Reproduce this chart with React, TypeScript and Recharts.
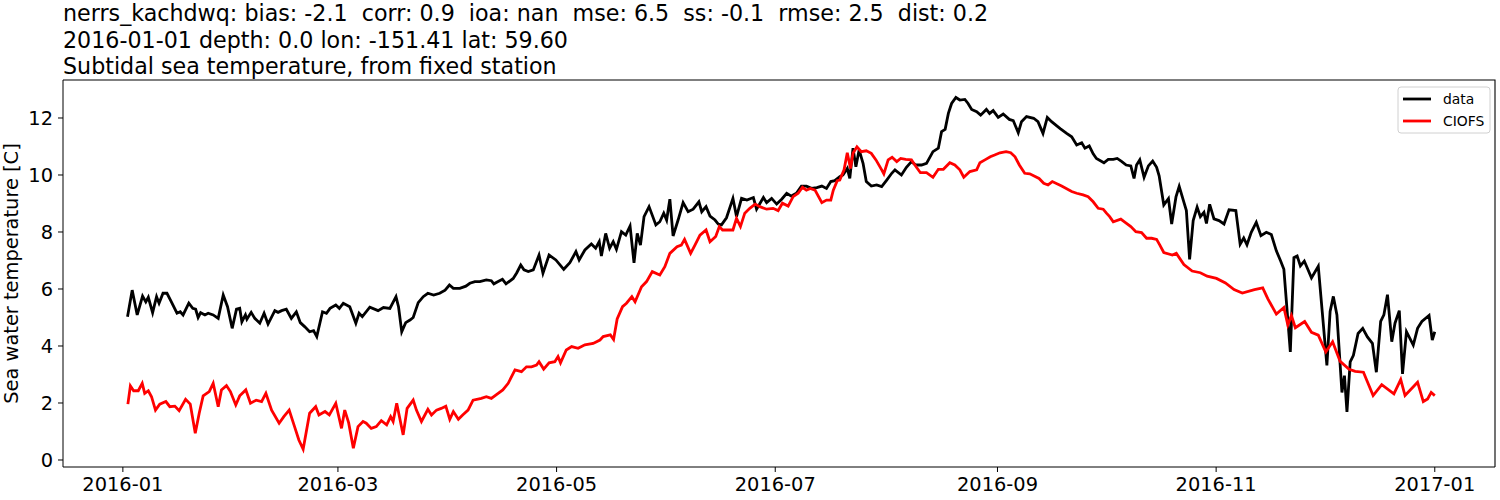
import { Line, LineChart, XAxis, YAxis } from 'recharts'

// Day numbers counted from 2016-01-01
const DATA_DAYS = [
  1.3, 2.6, 4.0, 5.5, 6.4, 7.1, 8.3, 9.4, 10.1, 11.2, 12.3, 13.5, 15.1, 16.0, 16.8, 18.4, 19.5, 20.3, 21.0, 21.7,
  22.9, 23.8, 25.2, 26.6, 28.0, 29.2, 30.5, 31.7, 32.6, 33.2, 34.2, 34.6, 35.8, 36.8, 38.2, 39.4, 40.5, 42.4, 43.3, 44.3,
  45.6, 47.0, 48.4, 49.5, 50.7, 52.1, 53.2, 54.1, 55.7, 56.8, 57.8, 59.4, 60.4, 61.5, 63.3, 65.0, 65.9, 66.8, 68.9, 71.2,
  72.7, 74.5, 76.2, 76.9, 77.8, 78.9, 80.1, 81.0, 82.4, 83.8, 85.1, 86.7, 88.4, 89.9, 91.1, 92.2, 94.0, 95.7, 96.8, 98.2,
  99.6, 101.4, 102.8, 103.5, 104.7, 105.9, 106.9, 108.9, 109.9, 111.0, 111.9, 113.1, 114.5, 116.1, 117.2, 118.9, 120.8, 123.0, 124.7, 126.4,
  127.3, 128.9, 130.7, 131.9, 132.9, 133.5, 134.7, 135.8, 136.8, 137.7, 139.1, 140.3, 141.5, 142.6, 143.5, 144.4, 145.4, 146.8, 148.7, 149.8,
  150.9, 151.7, 152.6, 153.5, 154.9, 156.3, 157.7, 159.1, 160.7, 161.5, 162.7, 163.8, 165.2, 166.1, 167.0, 168.4, 170.2, 171.2, 172.6, 174.1,
  175.9, 176.8, 178.7, 179.6, 181.0, 182.4, 183.8, 185.2, 186.5, 187.9, 189.3, 190.7, 192.1, 193.6, 195.0, 196.3, 197.5, 198.6, 200.0, 200.9,
  202.1, 202.8, 203.7, 204.5, 205.4, 206.5, 207.4, 208.8, 210.3, 211.7, 213.1, 214.5, 215.4, 217.2, 218.6, 220.0, 221.2, 222.8, 224.2, 226.0,
  227.5, 228.4, 229.4, 230.3, 231.2, 232.4, 233.5, 234.9, 235.8, 236.8, 238.2, 239.3, 240.9, 241.8, 242.8, 244.2, 245.6, 247.3, 248.4, 249.8,
  250.7, 252.1, 254.1, 255.3, 256.7, 257.9, 259.1, 261.5, 263.3, 264.7, 266.1, 267.5, 268.4, 269.6, 270.7, 271.6, 273.7, 274.9, 276.3, 277.4,
  278.7, 279.9, 281.2, 282.1, 282.8, 283.7, 284.9, 286.1, 287.3, 288.4, 289.1, 290.4, 291.7, 292.6, 293.8, 294.7, 296.0, 296.7, 297.6, 298.6,
  299.7, 300.6, 301.6, 302.3, 303.2, 304.4, 305.8, 307.2, 308.6, 310.5, 311.7, 312.7, 313.6, 314.8, 316.2, 317.5, 319.0, 320.4, 321.8, 323.0,
  323.9, 325.7, 326.7, 327.6, 328.5, 329.6, 331.6, 333.5, 334.6, 335.9, 336.8, 337.7, 338.7, 340.1, 340.8, 341.5, 342.4, 343.3, 344.6, 345.9,
  347.2, 348.6, 349.7, 350.9, 351.8, 352.8, 354.0, 354.9, 356.1, 357.0, 358.1, 360.0, 361.2, 362.4, 364.4, 365.3, 366.0,
]
const DATA_TEMP = [
  5.03, 5.96, 5.09, 5.75, 5.55, 5.71, 5.17, 5.73, 5.5, 5.85, 5.85, 5.56, 5.15, 5.2, 5.09, 5.5, 5.32, 5.29, 5.0, 5.17,
  5.09, 5.15, 5.09, 4.97, 5.79, 5.38, 4.62, 5.29, 5.32, 4.85, 5.09, 4.94, 5.18, 4.97, 4.8, 5.15, 4.77, 5.24, 5.18, 5.24,
  5.29, 4.97, 5.2, 4.82, 4.68, 4.5, 4.54, 4.33, 5.2, 5.15, 5.32, 5.44, 5.32, 5.5, 5.38, 4.8, 5.15, 5.03, 5.36, 5.24,
  5.35, 5.32, 5.73, 5.38, 4.5, 4.82, 4.91, 5.0, 5.52, 5.73, 5.85, 5.79, 5.85, 5.96, 6.14, 6.02, 6.02, 6.1, 6.2, 6.26,
  6.26, 6.32, 6.29, 6.18, 6.26, 6.34, 6.18, 6.37, 6.57, 6.84, 6.67, 6.61, 6.67, 7.19, 6.55, 7.19, 7.02, 6.69, 6.92, 7.31,
  7.02, 7.37, 7.58, 7.43, 7.66, 7.16, 7.95, 7.43, 7.66, 7.39, 8.01, 7.89, 8.21, 6.92, 7.95, 7.54, 8.54, 8.89, 8.25, 8.36,
  8.66, 8.42, 9.15, 7.86, 8.42, 9.03, 8.71, 8.8, 9.06, 8.71, 8.89, 8.56, 8.42, 8.28, 8.25, 8.5, 9.18, 8.54, 9.18, 9.12,
  9.21, 8.8, 9.21, 9.03, 9.18, 8.98, 9.15, 9.36, 9.26, 9.36, 9.61, 9.61, 9.53, 9.56, 9.61, 9.53, 9.77, 9.8, 9.94, 10.0,
  10.23, 9.88, 10.94, 10.29, 10.88, 10.41, 9.77, 9.61, 9.65, 9.59, 9.82, 10.06, 10.18, 10.0, 10.27, 10.47, 10.35, 10.35, 10.41, 10.82,
  10.94, 11.52, 11.6, 12.16, 12.51, 12.72, 12.63, 12.65, 12.51, 12.3, 12.22, 12.1, 12.3, 12.16, 12.26, 12.02, 12.14, 11.95, 11.91, 11.48,
  11.87, 12.05, 11.99, 11.87, 11.46, 12.02, 11.87, 11.63, 11.46, 11.34, 11.05, 11.13, 10.94, 11.02, 10.74, 10.58, 10.43, 10.55, 10.55, 10.58,
  10.47, 10.35, 10.32, 9.88, 10.35, 10.53, 9.92, 10.32, 10.49, 10.27, 9.97, 8.95, 9.17, 8.28, 9.23, 9.6, 9.05, 8.75, 7.04, 8.4,
  8.87, 8.54, 8.69, 8.3, 8.97, 8.46, 8.4, 8.28, 8.78, 8.75, 7.57, 7.79, 7.55, 7.99, 8.34, 7.87, 7.99, 7.91, 7.34, 6.98,
  6.69, 3.79, 7.1, 7.16, 6.81, 6.98, 6.39, 6.8, 5.21, 3.32, 5.21, 5.74, 5.09, 2.37, 2.96, 1.69, 3.44, 3.67, 4.44, 4.62,
  4.32, 4.09, 3.08, 4.86, 5.09, 5.8, 4.15, 4.8, 5.24, 3.02, 4.5, 4.03, 4.62, 4.86, 5.07, 4.21, 4.5,
]

const CIOFS_DAYS = [
  1.4, 2.1, 3.0, 4.3, 5.4, 6.1, 7.1, 8.0, 9.1, 10.3, 12.0, 13.1, 14.5, 15.7, 17.5, 18.8, 20.2, 21.3, 22.4, 24.1,
  25.2, 26.6, 27.5, 28.9, 30.0, 31.5, 32.6, 34.3, 35.6, 37.2, 38.7, 39.9, 41.5, 43.6, 44.9, 46.4, 47.9, 49.1, 50.3, 52.1,
  53.8, 54.7, 56.4, 57.6, 59.4, 61.0, 61.9, 63.0, 64.3, 65.6, 67.0, 67.9, 69.3, 70.7, 72.1, 73.6, 74.7, 75.4, 76.4, 78.2,
  79.3, 81.0, 81.9, 83.3, 85.1, 86.1, 87.5, 88.8, 90.1, 91.2, 92.2, 93.6, 94.8, 96.3, 97.7, 100.0, 101.4, 102.8, 104.7, 106.0,
  107.5, 109.4, 111.2, 112.6, 114.0, 115.4, 116.1, 117.4, 118.9, 120.5, 121.4, 122.1, 123.7, 125.2, 127.0, 128.9, 131.2, 133.1, 134.0, 136.0,
  136.9, 137.9, 139.4, 140.5, 142.0, 142.9, 144.7, 146.1, 147.7, 149.8, 151.2, 152.6, 154.6, 155.8, 156.7, 158.4, 159.6, 161.0, 162.7, 163.8,
  165.4, 166.4, 167.3, 170.2, 171.2, 172.3, 173.5, 174.9, 176.4, 177.7, 179.6, 181.4, 182.8, 184.0, 185.6, 187.0, 188.4, 189.6, 190.7, 191.8,
  193.1, 195.0, 196.3, 197.5, 198.2, 199.3, 200.0, 201.2, 202.1, 203.0, 203.7, 204.8, 206.0, 207.4, 208.8, 210.1, 211.7, 212.3, 213.5, 214.6,
  215.9, 217.0, 218.4, 220.0, 221.4, 222.5, 224.2, 226.0, 227.5, 228.9, 230.7, 232.1, 233.5, 234.6, 236.3, 238.2, 239.1, 240.5, 242.0, 243.2,
  244.7, 246.4, 247.7, 248.9, 250.1, 251.6, 253.0, 255.6, 256.9, 258.1, 259.3, 261.9, 264.7, 266.1, 267.9, 269.3, 270.7, 272.1, 273.5, 274.4,
  275.3, 276.3, 278.4, 279.9, 281.2, 282.6, 284.2, 285.6, 287.0, 288.4, 289.3, 290.4, 292.8, 293.9, 296.0, 298.3, 300.6, 302.5, 305.1, 307.6,
  310.0, 312.3, 315.7, 318.0, 319.4, 321.8, 323.9, 325.0, 326.0, 327.1, 329.7, 331.6, 333.5, 335.6, 337.5, 339.6, 342.1, 343.8, 346.1, 348.8,
  351.2, 354.6, 356.5, 357.7, 361.2, 362.8, 364.0, 365.0, 366.0,
]
const CIOFS_TEMP = [
  1.96, 2.6, 2.43, 2.43, 2.69, 2.34, 2.43, 2.22, 1.75, 1.96, 2.05, 1.87, 1.89, 1.73, 2.13, 1.96, 0.94, 1.64, 2.25, 2.4,
  2.69, 1.87, 2.46, 2.61, 2.4, 1.93, 2.25, 2.46, 1.99, 2.1, 2.05, 2.34, 1.75, 1.29, 1.52, 1.75, 1.17, 0.7, 0.38, 1.64,
  1.87, 1.58, 1.7, 1.58, 1.99, 1.11, 1.75, 1.3, 0.41, 1.17, 1.35, 1.29, 1.11, 1.17, 1.38, 1.23, 1.52, 1.35, 1.99, 0.88,
  1.81, 2.1, 1.75, 1.35, 1.78, 1.58, 1.75, 1.81, 1.89, 1.43, 1.7, 1.43, 1.58, 1.75, 2.1, 2.16, 2.22, 2.16, 2.34, 2.46,
  2.69, 3.16, 3.1, 3.27, 3.27, 3.33, 3.45, 3.19, 3.41, 3.45, 3.63, 3.41, 3.86, 3.98, 3.92, 4.04, 4.09, 4.21, 4.33, 4.39,
  4.23, 4.95, 5.38, 5.5, 5.73, 5.55, 6.08, 6.26, 6.61, 6.49, 6.78, 7.25, 7.48, 7.54, 7.74, 7.25, 7.54, 7.89, 8.07, 7.66,
  7.84, 8.19, 8.07, 8.07, 8.48, 8.19, 8.66, 8.83, 8.98, 8.89, 8.8, 8.83, 8.75, 9.01, 8.91, 9.24, 9.36, 9.57, 9.47, 9.53,
  9.47, 9.03, 9.12, 9.12, 9.47, 9.8, 9.82, 10.18, 10.78, 10.23, 10.76, 10.99, 10.82, 10.85, 10.76, 10.53, 10.18, 10.04, 10.53, 10.62,
  10.47, 10.58, 10.55, 10.53, 10.27, 10.08, 10.08, 9.92, 10.2, 10.2, 10.43, 10.35, 10.18, 9.92, 10.12, 10.18, 10.43, 10.53, 10.64, 10.7,
  10.78, 10.82, 10.78, 10.64, 10.35, 10.06, 10.04, 9.88, 9.71, 9.65, 9.77, 9.61, 9.42, 9.36, 9.3, 9.24, 9.06, 8.83, 8.8, 8.66,
  8.54, 8.36, 8.45, 8.31, 8.19, 8.01, 7.98, 7.78, 7.78, 7.74, 7.54, 7.28, 7.19, 7.25, 6.86, 6.63, 6.57, 6.45, 6.37, 6.21,
  5.98, 5.86, 5.98, 6.04, 5.66, 5.12, 5.35, 4.74, 5.07, 4.64, 4.86, 4.48, 4.38, 3.79, 4.15, 3.46, 3.18, 3.11, 3.08, 2.26,
  2.64, 2.32, 2.82, 2.26, 2.73, 2.05, 2.14, 2.37, 2.26,
]

const TICK_DAYS = [0, 60, 121, 182, 244, 305, 366]
const TICK_LABELS = ['2016-01', '2016-03', '2016-05', '2016-07', '2016-09', '2016-11', '2017-01']
const Y_TICKS = [0, 2, 4, 6, 8, 10, 12]

const TITLE_LINES = [
  'nerrs_kachdwq: bias: -2.1  corr: 0.9  ioa: nan  mse: 6.5  ss: -0.1  rmse: 2.5  dist: 0.2',
  '2016-01-01 depth: 0.0 lon: -151.41 lat: 59.60',
  'Subtidal sea temperature, from fixed station',
]
const Y_LABEL = 'Sea water temperature [C]'
const SERIES_NAMES = ['data', 'CIOFS']
const SERIES_COLORS = ['#000000', '#ff0000']

const FONT = '"DejaVu Sans", sans-serif'

const dataRows = DATA_DAYS.map((day, i) => ({ day, temp: DATA_TEMP[i] }))
const ciofsRows = CIOFS_DAYS.map((day, i) => ({ day, temp: CIOFS_TEMP[i] }))

// plot box in page pixels
const PLOT = { left: 63, top: 80, right: 1495, bottom: 467 }

export default function App() {
  const tickStyle = { fill: '#000', fontSize: 19.4, fontFamily: FONT }
  return (
    <div style={{ position: 'absolute', left: 0, top: 0, width: 1500, height: 500, background: '#fff' }}>
      <LineChart
        width={1500}
        height={500}
        margin={{ top: PLOT.top, right: 1500 - PLOT.right, bottom: 0, left: 3 }}
      >
        <XAxis
          type="number"
          dataKey="day"
          domain={[-16.7, 382.8]}
          allowDataOverflow
          ticks={TICK_DAYS}
          interval={0}
          tickFormatter={(d: number) => TICK_LABELS[TICK_DAYS.indexOf(d)]}
          height={500 - PLOT.bottom}
          tick={tickStyle}
          tickSize={5}
          tickMargin={5}
          stroke="#000"
        />
        <YAxis
          type="number"
          domain={[-0.246, 13.333]}
          allowDataOverflow
          ticks={Y_TICKS}
          interval={0}
          width={PLOT.left - 3}
          tick={tickStyle}
          tickSize={5}
          tickMargin={5}
          stroke="#000"
        />
        <Line
          data={dataRows}
          dataKey="temp"
          name={SERIES_NAMES[0]}
          stroke={SERIES_COLORS[0]}
          strokeWidth={2.8}
          dot={false}
          type="linear"
          isAnimationActive={false}
        />
        <Line
          data={ciofsRows}
          dataKey="temp"
          name={SERIES_NAMES[1]}
          stroke={SERIES_COLORS[1]}
          strokeWidth={2.8}
          dot={false}
          type="linear"
          isAnimationActive={false}
        />
      </LineChart>
      <svg
        width={1500}
        height={500}
        style={{ position: 'absolute', left: 0, top: 0, pointerEvents: 'none' }}
        fontFamily={FONT}
      >
        {/* top and right spines */}
        <polyline
          points={`${PLOT.left},${PLOT.top} ${PLOT.right},${PLOT.top} ${PLOT.right},${PLOT.bottom}`}
          fill="none"
          stroke="#000"
          strokeWidth={1.1}
        />
        {TITLE_LINES.map((t, i) => (
          <text key={i} x={PLOT.left} y={21 + i * 26.5} fontSize={22.2} fill="#000" style={{ whiteSpace: 'pre' }}>
            {t}
          </text>
        ))}
        <text
          x={0}
          y={0}
          transform={`translate(18, ${(PLOT.top + PLOT.bottom) / 2}) rotate(-90)`}
          textAnchor="middle"
          fontSize={19.4}
          fill="#000"
        >
          {Y_LABEL}
        </text>
        {/* legend */}
        <rect x={1398} y={87} width={92} height={46} rx={3} fill="#fff" fillOpacity={0.8} stroke="#d0d0d0" />
        {SERIES_NAMES.map((name, i) => (
          <g key={name}>
            <line x1={1403} x2={1431} y1={99 + i * 22} y2={99 + i * 22} stroke={SERIES_COLORS[i]} strokeWidth={2.8} />
            <text x={1443} y={104 + i * 22} fontSize={13.9} fill="#000">
              {name}
            </text>
          </g>
        ))}
      </svg>
    </div>
  )
}
